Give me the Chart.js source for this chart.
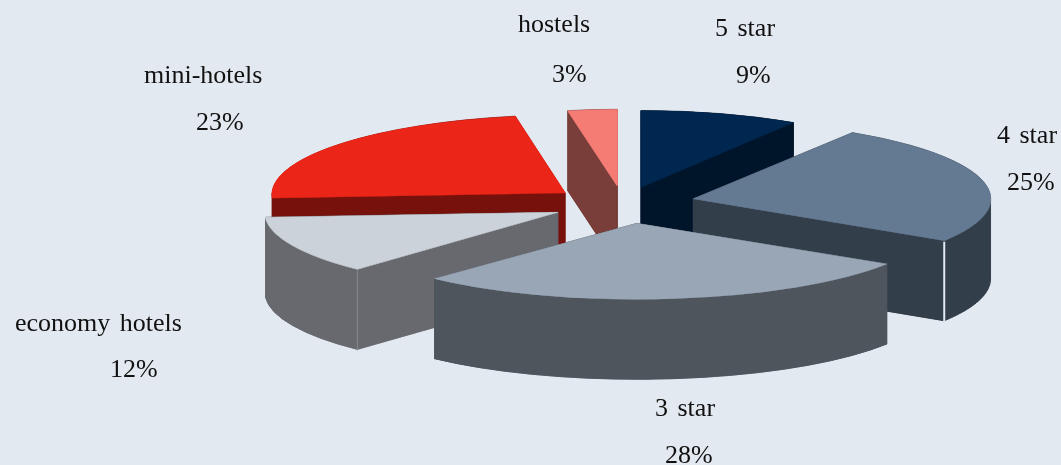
<!DOCTYPE html>
<html>
<head>
<meta charset="utf-8">
<style>
  html, body { margin: 0; padding: 0; background: #e3e9f0; }
  #wrap { position: relative; width: 1061px; height: 465px; }
</style>
<script src="https://cdn.jsdelivr.net/npm/chart.js@4/dist/chart.umd.min.js"></script>
</head>
<body>
<div id="wrap"><canvas id="pie" width="1061" height="465"></canvas></div>
<script>
const categories = ['5 star', '4 star', '3 star', 'economy hotels', 'mini-hotels', 'hostels'];
const shares = [9, 25, 28, 12, 23, 3];

const topColors = ['#00274f', '#647a93', '#99a6b6', '#ccd2da', '#eb2618', '#f57c75'];
const wallColors = ['#00142a', '#333e4b', '#4e555d', '#67696e', '#76110b', '#793d3a'];

// back to front, so nearer slices cover the ones behind
const drawOrder = [4, 5, 0, 1, 3, 2];

// left edge and baseline of the two text lines of each label
const labelSpots = [
    [715, 36, 736, 83],
    [997, 143, 1007, 190],
    [655, 416, 665, 463],
    [15, 331, 110, 377],
    [144, 83, 196, 130],
    [518, 32, 552, 82]
];

const view = { cx: 622, cy: 205, radius: 290, tilt: 0.27, explode: 72, depth: 80 };

// small per slice corrections, the original has some perspective
const sliceFit = [
    { dx: -1, dy: 1, kx: 0.98, ky: 0.98, shear: 0 },
    { dx: 1, dy: -2, kx: 1.025, ky: 1, shear: 0 },
    { dx: 6, dy: -1, kx: 1.02, ky: 0.97, shear: 0 },
    { dx: 1, dy: -1, kx: 1.01, ky: 1, shear: 0 },
    { dx: 0, dy: 0, kx: 1.01, ky: 1, shear: -0.064 },
    { dx: 2, dy: 0, kx: 0.91, ky: 0.975, shear: 0 }
];

const pie3d = {
    id: 'pie3d',
    beforeDatasetDraw(chart, args) {
        const ctx = chart.ctx;
        const arcs = args.meta.data;
        const sx = view.radius / arcs[0].outerRadius;
        const sy = sx * view.tilt;

        const place = (arc, i, drop) => {
            const mid = (arc.startAngle + arc.endAngle) / 2;
            const fit = sliceFit[i];
            ctx.translate(view.cx + fit.dx + Math.cos(mid) * view.explode,
                view.cy + fit.dy + Math.sin(mid) * view.explode * view.tilt + drop);
            ctx.transform(fit.kx, 0, fit.shear, fit.ky, 0, 0);
            ctx.scale(sx, sy);
            ctx.translate(-arc.x, -arc.y);
        };

        // adds path pieces with the slice placed at the given drop
        const atDrop = (arc, i, drop, addPath) => {
            ctx.save();
            place(arc, i, drop);
            addPath();
            ctx.restore();
        };

        const paint = () => {
            ctx.closePath();
            ctx.fill();
            ctx.stroke();
        };

        const cutWall = (arc, i, ang) => {
            const rimX = arc.x + Math.cos(ang) * arc.outerRadius;
            const rimY = arc.y + Math.sin(ang) * arc.outerRadius;
            ctx.beginPath();
            atDrop(arc, i, 0, () => {
                ctx.moveTo(arc.x, arc.y);
                ctx.lineTo(rimX, rimY);
            });
            atDrop(arc, i, view.depth, () => {
                ctx.lineTo(rimX, rimY);
                ctx.lineTo(arc.x, arc.y);
            });
            paint();
        };

        const outerWall = (arc, i, from, to) => {
            ctx.beginPath();
            atDrop(arc, i, 0, () => {
                ctx.arc(arc.x, arc.y, arc.outerRadius, from, to);
            });
            atDrop(arc, i, view.depth, () => {
                ctx.arc(arc.x, arc.y, arc.outerRadius, to, from, true);
            });
            paint();
        };

        drawOrder.forEach(i => {
            const arc = arcs[i];
            ctx.save();
            ctx.fillStyle = wallColors[i];
            ctx.strokeStyle = wallColors[i];
            ctx.lineWidth = 0.7;

            // floor of the slice
            ctx.beginPath();
            atDrop(arc, i, view.depth, () => {
                ctx.moveTo(arc.x, arc.y);
                ctx.arc(arc.x, arc.y, arc.outerRadius, arc.startAngle, arc.endAngle);
            });
            paint();

            cutWall(arc, i, arc.startAngle);
            cutWall(arc, i, arc.endAngle);

            // split the outer wall at the left and right extremes of the ellipse,
            // otherwise the swept shape cancels itself out when filled
            const stops = [arc.startAngle, 0, Math.PI, arc.endAngle]
                .filter(a => a >= arc.startAngle && a <= arc.endAngle);
            for (let s = 0; s < stops.length - 1; s++) {
                outerWall(arc, i, stops[s], stops[s + 1]);
            }
            ctx.restore();

            ctx.save();
            place(arc, i, 0);
            const m = ctx.getTransform();
            arc.draw(ctx);
            ctx.restore();

            // seams on the outer corners of the 4 star and economy slices
            if (i === 1 || i === 3) {
                const ang = i === 1 ? arc.endAngle : arc.startAngle;
                const corner = m.transformPoint({
                    x: arc.x + Math.cos(ang) * arc.outerRadius,
                    y: arc.y + Math.sin(ang) * arc.outerRadius
                });
                ctx.save();
                ctx.strokeStyle = i === 1 ? '#e3e9f0' : '#8a8c90';
                ctx.lineWidth = i === 1 ? 2 : 1;
                ctx.beginPath();
                ctx.moveTo(corner.x, corner.y + 1);
                ctx.lineTo(corner.x, corner.y + view.depth + 1);
                ctx.stroke();
                ctx.restore();
            }
        });
        return false;
    },
    afterDraw(chart) {
        const ctx = chart.ctx;
        ctx.save();
        ctx.fillStyle = '#111111';
        ctx.font = '26px "Liberation Serif"';
        ctx.wordSpacing = '3px';
        ctx.textAlign = 'left';
        categories.forEach((name, i) => {
            const spot = labelSpots[i];
            ctx.fillText(name, spot[0], spot[1]);
            ctx.fillText(shares[i] + '%', spot[2], spot[3]);
        });
        ctx.restore();
    }
};

new Chart(document.getElementById('pie'), {
    type: 'pie',
    data: {
        labels: categories,
        datasets: [{
            data: shares,
            backgroundColor: topColors,
            borderColor: topColors,
            borderWidth: 1
        }]
    },
    options: {
        responsive: false,
        animation: false,
        events: [],
        plugins: {
            legend: { display: false },
            tooltip: { enabled: false }
        }
    },
    plugins: [pie3d]
});
</script>
</body>
</html>
